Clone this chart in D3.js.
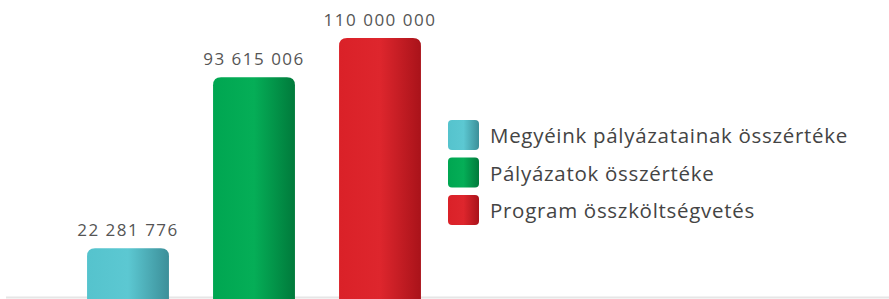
<!DOCTYPE html>
<html>
<head>
<meta charset="utf-8">
<script src="https://cdn.jsdelivr.net/npm/d3@7"></script>
<style>
  body { margin: 0; background: #fff; }
  svg { display: block; font-family: "Open Sans", sans-serif; }
</style>
</head>
<body>
<svg id="chart" width="889" height="299"></svg>
<script>
const categories = ["Megyéink pályázatainak összértéke", "Pályázatok összértéke", "Program összköltségvetés"];
const values = [22281776, 93615006, 110000000];
const valueLabels = ["22 281 776", "93 615 006", "110 000 000"];
const colours = [
    { base: "#55c3cd", light: "#5cc8d2", dark: "#3c8f99" },
    { base: "#00a651", light: "#05ae57", dark: "#007a3b" },
    { base: "#da2128", light: "#de262d", dark: "#a9131a" }
];

const svg = d3.select("#chart");
const baseline = 297;

const defs = svg.append("defs");
colours.forEach((c, i) => {
    const g = defs.append("linearGradient")
        .attr("id", "grad" + i)
        .attr("x1", "0%").attr("x2", "100%").attr("y1", "0%").attr("y2", "0%");
    g.append("stop").attr("offset", "0%").attr("stop-color", c.base);
    g.append("stop").attr("offset", "50%").attr("stop-color", c.light);
    g.append("stop").attr("offset", "100%").attr("stop-color", c.dark);
});

const xScale = d3.scaleBand().domain(categories).range([65, 443]).paddingInner(0.35).paddingOuter(0.175);
const yScale = d3.scaleLinear().domain([2000000, 110000000]).range([baseline, 38]);

// baseline rule
svg.append("line")
    .attr("x1", 6).attr("x2", 889)
    .attr("y1", baseline + 0.5).attr("y2", baseline + 0.5)
    .attr("stroke", "#e6e6e6").attr("stroke-width", 2);

const topRounded = (x, y, w, h, r) =>
    `M${x},${y + h}V${y + r}Q${x},${y} ${x + r},${y}H${x + w - r}Q${x + w},${y} ${x + w},${y + r}V${y + h}Z`;

const data = categories.map((c, i) => ({ name: c, value: values[i], label: valueLabels[i], i }));

svg.selectAll(".bar")
    .data(data)
    .join("path")
    .attr("class", "bar")
    .attr("fill", d => `url(#grad${d.i})`)
    .attr("d", d => topRounded(xScale(d.name), yScale(d.value), xScale.bandwidth(), baseline + 2 - yScale(d.value), 8));

svg.selectAll(".value-label")
    .data(data)
    .join("text")
    .attr("class", "value-label")
    .attr("x", d => xScale(d.name) + xScale.bandwidth() / 2)
    .attr("y", d => yScale(d.value) - 12)
    .attr("text-anchor", "middle")
    .attr("fill", "#555")
    .attr("font-size", 17)
    .attr("letter-spacing", 1.5)
    .text(d => d.label);

// legend
const legend = svg.append("g").attr("transform", "translate(448,120)");
const legendItem = legend.selectAll(".legend-item")
    .data(data)
    .join("g")
    .attr("class", "legend-item")
    .attr("transform", d => `translate(0, ${d.i * 37.5})`);

legendItem.append("rect")
    .attr("width", 31).attr("height", 30)
    .attr("rx", 4)
    .attr("fill", d => `url(#grad${d.i})`);

legendItem.append("text")
    .attr("x", 42).attr("y", 23)
    .attr("fill", "#444")
    .attr("font-size", 20.5)
    .attr("letter-spacing", 0.7)
    .text(d => d.name);
</script>
</body>
</html>
